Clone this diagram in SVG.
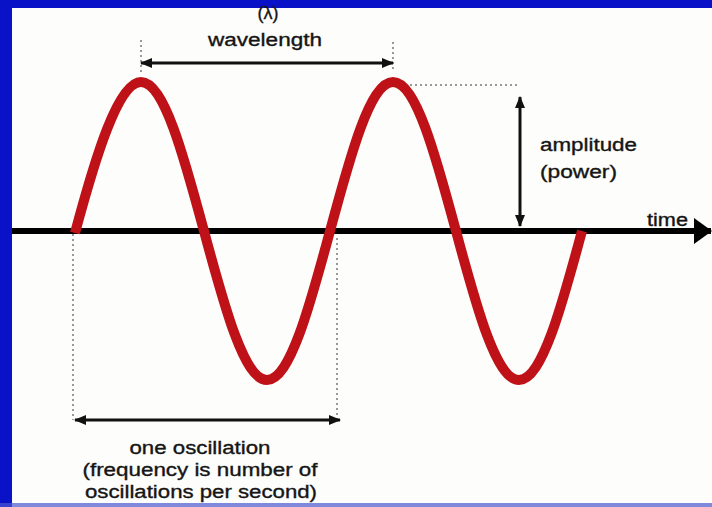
<svg xmlns="http://www.w3.org/2000/svg" width="712" height="507" viewBox="0 0 712 507">
  <style>
    .lbl { font-family: "Liberation Sans", Arial, sans-serif; fill: #151515; stroke: #151515; stroke-width: 0.35; font-size: 18px; }
    .dot { stroke: #7a7a7a; stroke-width: 1.5; stroke-dasharray: 2 3; fill: none; }
    .dim { stroke: #111; stroke-width: 3; fill: none; }
    .wave { stroke: #bf1218; stroke-width: 10; fill: none; stroke-linecap: butt; }
  </style>
  <defs>
    <marker id="ah" viewBox="0 0 12 10" refX="11" refY="5" markerWidth="12" markerHeight="10" markerUnits="userSpaceOnUse" orient="auto-start-reverse">
      <path d="M0,0 L12,5 L0,10 Z" fill="#111"/>
    </marker>
    <marker id="axh" viewBox="0 0 18 26" refX="17" refY="13" markerWidth="18" markerHeight="26" markerUnits="userSpaceOnUse" orient="auto">
      <path d="M0,0 L18,13 L0,26 Z" fill="#000"/>
    </marker>
  </defs>

  <rect x="0" y="0" width="712" height="507" fill="#fdfdfb"/>
  <rect x="0" y="0" width="712" height="8" fill="#0a12c8"/>
  <rect x="0" y="0" width="12" height="507" fill="#0a12c8"/>
  <rect x="0" y="503" width="712" height="4" fill="#4a58d0" opacity="0.7"/>

  <g id="connectors">
    <line class="dot" x1="141" y1="40" x2="141" y2="72"/>
    <line class="dot" x1="393" y1="42" x2="393" y2="72"/>
    <line class="dot" x1="400" y1="85" x2="520" y2="85"/>
    <line class="dot" x1="73" y1="234" x2="73" y2="420"/>
    <line class="dot" x1="337" y1="238" x2="337" y2="420"/>
    <line x1="12" y1="231" x2="711" y2="231" stroke="#000" stroke-width="6" marker-end="url(#axh)"/>
    <line class="dim" x1="141" y1="63" x2="393" y2="63" marker-start="url(#ah)" marker-end="url(#ah)"/>
    <line class="dim" x1="520" y1="97" x2="520" y2="226" marker-start="url(#ah)" marker-end="url(#ah)"/>
    <line class="dim" x1="75" y1="420" x2="340" y2="420" marker-start="url(#ah)" marker-end="url(#ah)"/>
  </g>

  <g id="wave">
    <path class="wave" d="M75,233 c20.5,-76.3 43.2,-151 66,-151 c22.8,0 42.5,72.7 63,149 c20.5,76.3 40.2,149 63,149 c22.8,0 42.5,-72.7 63,-149 c20.5,-76.3 40.2,-149 63,-149 c22.8,0 42.5,72.7 63,149 c20.5,76.3 40.2,149 63,149 c22.8,0 42.5,-72.7 63,-149"/>
  </g>

  <g id="wavelength-label">
    <text class="lbl" x="268" y="19" text-anchor="middle" font-size="16">(λ)</text>
    <text class="lbl" x="265" y="46" text-anchor="middle" textLength="114" lengthAdjust="spacingAndGlyphs">wavelength</text>
  </g>

  <g id="amplitude-label">
    <text class="lbl" x="540" y="151" textLength="97" lengthAdjust="spacingAndGlyphs">amplitude</text>
    <text class="lbl" x="540" y="178" textLength="77" lengthAdjust="spacingAndGlyphs">(power)</text>
  </g>

  <g id="time-label">
    <text class="lbl" x="647" y="226" textLength="41" lengthAdjust="spacingAndGlyphs">time</text>
  </g>

  <g id="oscillation-label">
    <text class="lbl" x="200" y="454" text-anchor="middle" textLength="141" lengthAdjust="spacingAndGlyphs">one oscillation</text>
    <text class="lbl" x="200" y="476" text-anchor="middle" textLength="235" lengthAdjust="spacingAndGlyphs">(frequency is number of</text>
    <text class="lbl" x="201" y="498" text-anchor="middle" textLength="232" lengthAdjust="spacingAndGlyphs">oscillations per second)</text>
  </g>
</svg>
